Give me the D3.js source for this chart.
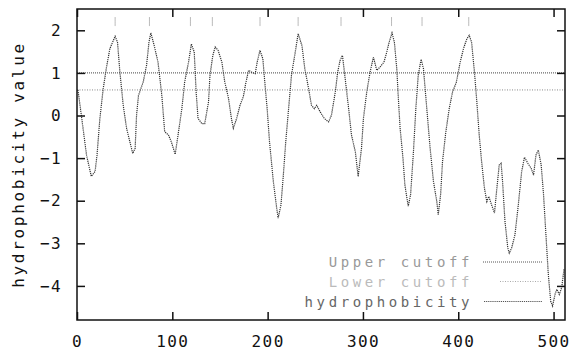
<!DOCTYPE html>
<html>
<head>
<meta charset="utf-8">
<script src="https://cdn.jsdelivr.net/npm/d3@7"></script>
<style>
  body { margin: 0; background: #fff; }
  text { font-family: "DejaVu Sans Mono", "Liberation Mono", monospace; }
</style>
</head>
<body>
<div id="chart"></div>
<script>
// residue position and hydrophobicity
let residue = [1, 5, 10, 15, 19, 21, 24, 27.5, 31, 34.5, 40, 42.5, 45, 48.5, 52, 55.5, 58.5, 61, 62.5, 64.5,
  69.5, 73, 75.5, 77.5, 81, 85, 89, 92, 96, 99, 103, 106, 110, 113, 117, 120, 123, 125, 127, 131,
  134, 138, 139.5, 142.5, 145, 148, 152, 155, 159, 162, 164, 167.5, 171, 174.5, 177, 180, 183, 187, 189, 192,
  195, 197, 199.5, 202, 206, 209.5, 211, 214, 216.5, 219, 222, 225, 229, 232, 236, 239, 243, 246, 249, 251.5,
  255, 259.5, 264, 267, 271, 273.5, 276, 278.5, 281, 285, 288, 292, 295, 298.5, 300.5, 304, 307.5, 311, 314.5, 318,
  322, 325, 327.5, 330.5, 333, 335.5, 337, 339, 342, 344, 347.5, 350, 353, 355.5, 358, 361, 363.5, 367, 370.5, 374,
  377.5, 379, 381.5, 383.5, 387, 390.5, 394, 398, 402, 405.5, 409, 411.5, 414, 417, 419.5, 422, 424.5, 427.5, 430, 432,
  435, 438, 440.5, 443, 445, 446.5, 449, 452, 453.5, 456, 459.5, 463, 466.5, 469.5, 473, 476.5, 479, 481.5, 484, 487,
  489.5, 492, 494.5, 497, 499, 501.5, 503.5, 506, 508.5, 511];
let hydro = [0.6, -0.07, -0.93, -1.43, -1.31, -0.93, -0.07, 0.63, 1.14, 1.57, 1.86, 1.72, 1.02, 0.24, -0.3, -0.62, -0.89, -0.77, 0.01, 0.47,
  0.79, 1.18, 1.72, 1.94, 1.64, 1.25, 0.47, -0.38, -0.46, -0.62, -0.91, -0.46, 0.16, 0.79, 1.25, 1.68, 1.49, 0.55, -0.07, -0.19,
  -0.19, 0.32, 0.94, 1.41, 1.61, 1.53, 1.25, 0.79, 0.4, -0.07, -0.3, -0.07, 0.24, 0.44, 0.75, 1.06, 1.02, 0.98, 1.25, 1.53,
  1.33, 0.79, 0.16, -0.62, -1.55, -2.17, -2.41, -2.1, -1.4, -0.62, 0.16, 0.94, 1.49, 1.92, 1.64, 1.1, 0.63, 0.24, 0.16, 0.24,
  0.09, -0.07, -0.15, 0.01, 0.55, 1.02, 1.29, 1.41, 0.94, 0.16, -0.46, -0.85, -1.43, -0.77, -0.07, 0.55, 1.02, 1.37, 1.06, 1.14,
  1.25, 1.49, 1.72, 1.94, 1.72, 1.1, 0.47, -0.3, -1.0, -1.63, -2.13, -1.86, -0.85, 0.16, 0.94, 1.32, 1.1, 0.16, -0.77, -1.55,
  -2.02, -2.33, -1.86, -1.08, -0.38, 0.16, 0.55, 0.78, 1.25, 1.57, 1.8, 1.88, 1.72, 1.02, 0.32, -0.46, -1.08, -1.71, -2.02, -1.9,
  -2.1, -2.29, -1.71, -1.16, -1.12, -1.55, -2.48, -3.11, -3.23, -3.11, -2.8, -2.1, -1.32, -0.98, -1.12, -1.24, -1.4, -0.93, -0.81, -1.16,
  -1.86, -2.8, -3.73, -4.36, -4.47, -4.2, -4.08, -4.2, -4.04, -3.6];

// peaks flagged above the curve
let peakMarks = [40, 76, 119, 142, 192, 232, 277, 330, 362, 411];

let upperCutoff = 1.0;
let lowerCutoff = 0.6;

let xTicks = [0, 100, 200, 300, 400, 500];
let yTicks = [2, 1, 0, -1, -2, -3, -4];

let legendLabels = ["Upper cutoff", "Lower cutoff", "hydrophobicity"];

////////////////////////////////////////////////////////////////////////

let width = 570, height = 353;
let plotLeft = 77, plotRight = 565, plotTop = 9, plotBottom = 320;

let xScale = d3.scaleLinear().domain([0, 512]).range([plotLeft, plotRight]);
let yScale = d3.scaleLinear().domain([-4.8, 2.5]).range([plotBottom, plotTop]);

let svg = d3.select("#chart").append("svg")
  .attr("width", width)
  .attr("height", height);

// cutoff lines
svg.append("line")
  .attr("x1", plotLeft).attr("x2", plotRight)
  .attr("y1", yScale(upperCutoff)).attr("y2", yScale(upperCutoff))
  .attr("stroke", "#444").attr("stroke-width", 1)
  .attr("stroke-dasharray", "1,1");

svg.append("line")
  .attr("x1", plotLeft).attr("x2", plotRight)
  .attr("y1", yScale(lowerCutoff)).attr("y2", yScale(lowerCutoff))
  .attr("stroke", "#888").attr("stroke-width", 1)
  .attr("stroke-dasharray", "1,1.5");

// peak marks above the curve
svg.append("g").selectAll("line")
  .data(peakMarks)
  .enter()
  .append("line")
  .attr("x1", d => xScale(d)).attr("x2", d => xScale(d))
  .attr("y1", yScale(2.3)).attr("y2", yScale(2.1))
  .attr("stroke", "#777").attr("stroke-width", 1)
  .attr("stroke-dasharray", "1,1");

// the profile
let points = residue.map((r, i) => [r, hydro[i]]);
let line = d3.line()
  .x(d => xScale(d[0]))
  .y(d => yScale(d[1]));

svg.append("path")
  .datum(points)
  .attr("d", line)
  .attr("fill", "none")
  .attr("stroke", "#333")
  .attr("stroke-width", 1.2)
  .attr("stroke-dasharray", "1.2,0.9");

// axes, ticks point inward
let tickFont = function(sel) {
  sel.selectAll("text")
    .attr("font-size", 16)
    .attr("letter-spacing", 1.4)
    .attr("fill", "#111");
  sel.select(".domain").remove();
  sel.selectAll("line").attr("stroke", "#111").attr("stroke-width", 1.5);
};

svg.append("g")
  .attr("transform", "translate(0," + plotBottom + ")")
  .call(d3.axisBottom(xScale).tickValues(xTicks).tickSize(-8).tickPadding(16))
  .call(tickFont);

svg.append("g")
  .attr("transform", "translate(0," + plotTop + ")")
  .call(d3.axisTop(xScale).tickValues(xTicks).tickSize(-8).tickFormat(""))
  .call(tickFont);

svg.append("g")
  .attr("transform", "translate(" + plotLeft + ",0)")
  .call(d3.axisLeft(yScale).tickValues(yTicks).tickSize(-8).tickPadding(15))
  .call(tickFont);

svg.append("g")
  .attr("transform", "translate(" + plotRight + ",0)")
  .call(d3.axisRight(yScale).tickValues(yTicks).tickSize(-8).tickFormat(""))
  .call(tickFont);

// frame
svg.append("rect")
  .attr("x", plotLeft).attr("y", plotTop)
  .attr("width", plotRight - plotLeft).attr("height", plotBottom - plotTop)
  .attr("fill", "none")
  .attr("stroke", "#111")
  .attr("stroke-width", 1.5);

// y axis title
svg.append("text")
  .attr("transform", "translate(24," + ((plotTop + plotBottom) / 2) + ") rotate(-90)")
  .attr("text-anchor", "middle")
  .attr("font-size", 16)
  .attr("letter-spacing", 2.7)
  .attr("fill", "#111")
  .text("hydrophobicity value");

// legend
let legendY = [262, 281.5, 301.5];
let legendText = ["#999", "#bbb", "#666"];
let legendLine = [{x1: 483, stroke: "#555", dash: "1,1"},
                  {x1: 500, stroke: "#aaa", dash: "1,1.5"},
                  {x1: 484, stroke: "#555", dash: "1.2,0.9"}];

let legend = svg.append("g").selectAll("g")
  .data(legendLabels)
  .enter()
  .append("g");

legend.append("text")
  .attr("x", 473)
  .attr("y", (d, i) => legendY[i] + 5)
  .attr("text-anchor", "end")
  .attr("font-size", 14)
  .attr("letter-spacing", 3.6)
  .attr("fill", (d, i) => legendText[i])
  .text(d => d);

legend.append("line")
  .attr("x1", (d, i) => legendLine[i].x1).attr("x2", 542)
  .attr("y1", (d, i) => legendY[i]).attr("y2", (d, i) => legendY[i])
  .attr("stroke", (d, i) => legendLine[i].stroke)
  .attr("stroke-width", 1)
  .attr("stroke-dasharray", (d, i) => legendLine[i].dash);
</script>
</body>
</html>
